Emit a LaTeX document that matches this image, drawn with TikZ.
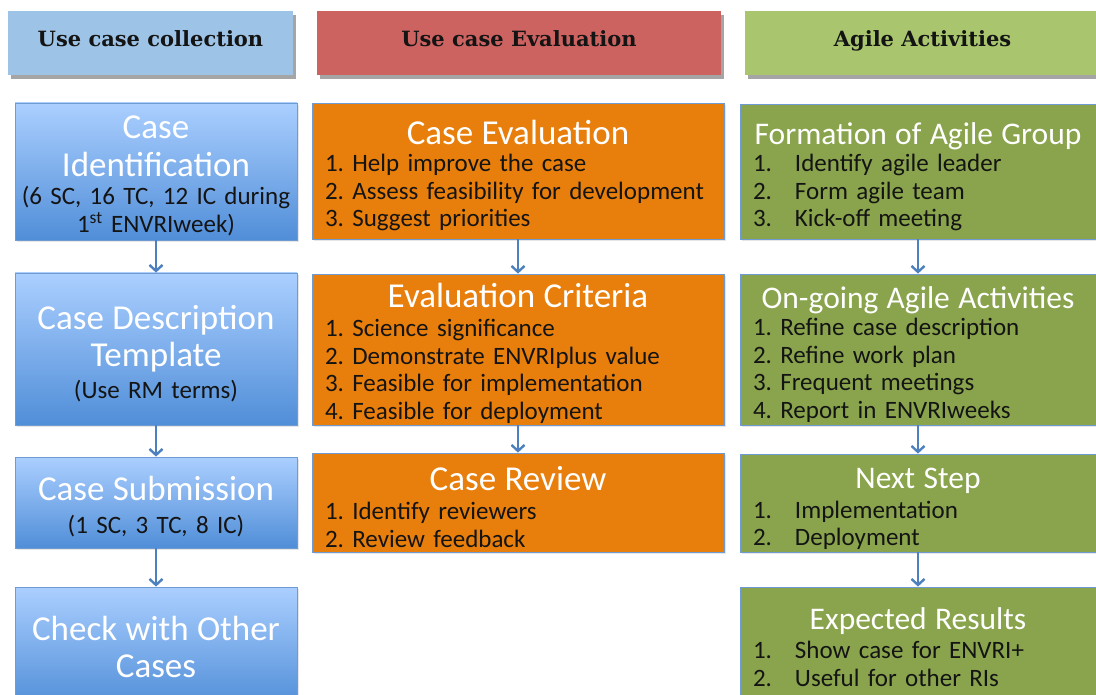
\documentclass[tikz,border=0pt]{standalone}
\usepackage{fontspec}
\setmainfont{Carlito}
\newfontfamily\hdrfont{DejaVu Serif}
\usetikzlibrary{arrows.meta, positioning, shadows}
\setlength{\parindent}{0pt}
\frenchspacing

\definecolor{hdrblue}{RGB}{157,195,230}
\definecolor{hdrred}{RGB}{205,99,97}
\definecolor{hdrgreen}{RGB}{169,198,110}
\definecolor{bluetop}{RGB}{171,207,255}
\definecolor{bluebot}{RGB}{80,142,216}
\definecolor{orangebox}{RGB}{232,126,11}
\definecolor{greenbox}{RGB}{137,164,76}
\definecolor{boxline}{RGB}{110,155,210}
\definecolor{arrowblue}{RGB}{76,128,190}
\definecolor{textdark}{RGB}{20,20,20}

\newcommand{\ttl}[1]{{\centering\color{white}\fontsize{35}{38}\selectfont #1\par}}
\newcommand{\gttl}[1]{{\centering\color{white}\fontsize{31.5}{34}\selectfont #1\par}}
\newcommand{\itm}[1]{\makebox[42pt][l]{#1}}

\begin{document}
\begin{tikzpicture}[x=1pt, y=-1pt,
    header/.style={inner sep=0pt, minimum height=64pt, text height=16pt, text depth=9pt,
        font=\hdrfont\bfseries\fontsize{21}{24}\selectfont, text=textdark,
        drop shadow={shadow xshift=3pt, shadow yshift=-4pt, opacity=0.5, fill=black!70}},
    bluebox/.style={draw=boxline, line width=0.8pt, top color=bluetop, bottom color=bluebot,
        text width=270pt, inner xsep=6pt, inner ysep=0pt, align=center,
        font=\fontsize{25}{28}\selectfont, text=textdark,
        drop shadow={shadow xshift=2pt, shadow yshift=-2pt, opacity=0.2}},
    orbox/.style={draw=boxline, line width=0.8pt, fill=orangebox,
        text width=386pt, inner xsep=13pt, inner ysep=0pt, align=left,
        font=\fontsize{25}{27.5}\selectfont, text=textdark,
        drop shadow={shadow xshift=2pt, shadow yshift=-2pt, opacity=0.2}},
    grbox/.style={draw=boxline, line width=0.8pt, fill=greenbox,
        text width=330pt, inner xsep=13pt, inner ysep=0pt, align=left,
        font=\fontsize{25}{27.5}\selectfont, text=textdark,
        drop shadow={shadow xshift=2pt, shadow yshift=-2pt, opacity=0.2}},
    textdown/.style={execute at begin node={\rule{0pt}{#1}}},
    flow/.style={draw=arrowblue, line width=2.4pt,
        -{Straight Barb[length=6pt, width=13pt, line width=2.4pt]}}]

    \useasboundingbox (0,0) rectangle (1096,695);

    % Column headers
    \node[header, fill=hdrblue, minimum width=285pt] (hcoll) at (150.5,43) {Use case collection};
    \node[header, fill=hdrred, minimum width=404pt] (heval) at (519,43) {Use case Evaluation};
    \node[header, fill=hdrgreen, minimum width=355pt] (hagile) at (922.5,43) {Agile Activities};

    % Use case collection
    \node[bluebox, textdown=31pt, minimum height=137pt] (ident) at (156,171.5)
        {{\color{white}\fontsize{35}{38}\selectfont Case\\Identification\par}
         (6 SC, 16 TC, 12 IC during\\1\textsuperscript{st} ENVRIweek)};
    \node[bluebox, textdown=34pt, minimum height=152pt] (desc) at (156,349)
        {{\color{white}\fontsize{35}{37}\selectfont Case Description\\Template\par}
         \vspace{4pt}(Use RM terms)};
    \node[bluebox, textdown=33pt, minimum height=91pt] (subm) at (156,502.5)
        {{\color{white}\fontsize{35}{38}\selectfont Case Submission\par}
         \vspace{5pt}(1 SC, 3 TC, 8 IC)};
    \node[bluebox, minimum height=120pt] (check) at (156,647)
        {{\color{white}\fontsize{35}{37}\selectfont Check with Other\\Cases\par}};

    % Use case Evaluation
    \node[orbox, textdown=33pt, minimum height=136pt] (caseeval) at (518,171)
        {\ttl{Case Evaluation}
         1. Help improve the case\\
         2. Assess feasibility for development\\
         3. Suggest priorities};
    \node[orbox, textdown=32pt, minimum height=151pt] (criteria) at (518,349.5)
        {\ttl{Evaluation Criteria}
         \vspace{2pt}1. Science significance\\
         2. Demonstrate ENVRIplus value\\
         3. Feasible for implementation\\
         4. Feasible for deployment};
    \node[orbox, textdown=33pt, minimum height=99pt] (review) at (518,502.5)
        {\ttl{Case Review}
         \vspace{2pt}1. Identify reviewers\\
         2. Review feedback};

    % Agile Activities
    \node[grbox, textdown=32pt, minimum height=135pt] (formation) at (918,171.5)
        {\gttl{Formation of Agile Group}
         \itm{1.}Identify agile leader\\
         \itm{2.}Form agile team\\
         \itm{3.}Kick-off meeting};
    \node[grbox, textdown=32pt, minimum height=151pt] (ongoing) at (918,349.5)
        {\gttl{On-going Agile Activities}
         1. Refine case description\\
         2. Refine work plan\\
         3. Frequent meetings\\
         4. Report in ENVRIweeks};
    \node[grbox, textdown=33pt, minimum height=98pt] (nextstep) at (918,503)
        {\gttl{Next Step}
         \vspace{2pt}\itm{1.}Implementation\\
         \itm{2.}Deployment};
    \node[grbox, minimum height=120pt] (results) at (918,647)
        {\gttl{Expected Results}
         \vspace{2pt}\itm{1.}Show case for ENVRI+\\
         \itm{2.}Useful for other RIs};

    % Arrows
    \draw[flow] (ident) -- (desc);
    \draw[flow] (desc) -- (subm);
    \draw[flow] (subm) -- (check);
    \draw[flow] (caseeval) -- (criteria);
    \draw[flow] (criteria) -- (review);
    \draw[flow] (formation) -- (ongoing);
    \draw[flow] (ongoing) -- (nextstep);
    \draw[flow] (nextstep) -- (results);
\end{tikzpicture}
\end{document}
